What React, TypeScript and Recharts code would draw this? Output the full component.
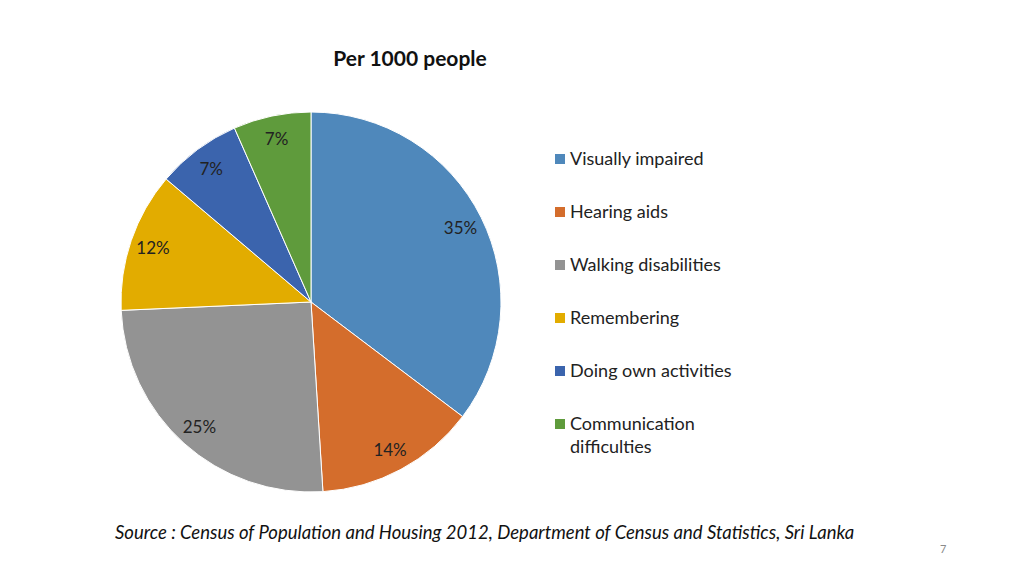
import { PieChart, Pie, Cell, Legend } from 'recharts'

const categories = [
  'Visually impaired',
  'Hearing aids',
  'Walking disabilities',
  'Remembering',
  'Doing own activities',
  'Communication difficulties',
]

const shares = [35.3, 13.7, 25.3, 11.9, 7.2, 6.6]

const sliceColors = ['#4F88BB', '#D46D2C', '#939393', '#E2AC00', '#3B64AD', '#5F9B3C']

const FONT = 'Lato, "Open Sans", "Noto Sans", sans-serif'

const pieData = categories.map((name, i) => ({ name, value: shares[i] }))

const RADIAN = Math.PI / 180

function renderLabel(props: any) {
  const { cx, cy, midAngle, percent } = props
  const r = 167
  const x = cx + r * Math.cos(-midAngle * RADIAN)
  const y = cy + r * Math.sin(-midAngle * RADIAN)
  return (
    <text
      x={x}
      y={y}
      textAnchor="middle"
      dominantBaseline="central"
      fill="#222"
      fontSize={17}
      fontFamily={FONT}
    >
      {`${Math.round((percent ?? 0) * 100)}%`}
    </text>
  )
}

function LegendList() {
  return (
    <div style={{ fontFamily: FONT, fontSize: 18, color: '#222' }}>
      {categories.map((name, i) => (
        <div
          key={name}
          style={{ display: 'flex', alignItems: 'flex-start', height: 53 }}
        >
          <span
            style={{
              display: 'inline-block',
              width: 10,
              height: 10,
              marginTop: 7,
              marginRight: 5,
              background: sliceColors[i],
              flex: 'none',
            }}
          />
          <span style={{ width: 165, lineHeight: '23px' }}>{name}</span>
        </div>
      ))}
    </div>
  )
}

export default function App() {
  return (
    <div
      style={{
        position: 'absolute',
        left: 0,
        top: 0,
        width: 1024,
        height: 576,
        background: '#fff',
        fontFamily: FONT,
      }}
    >
      <div
        style={{
          position: 'absolute',
          left: 290,
          top: 45,
          width: 240,
          textAlign: 'center',
          fontWeight: 'bold',
          fontSize: 21,
          color: '#111',
        }}
      >
        Per 1000 people
      </div>
      <PieChart width={1024} height={576} margin={{ top: 0, right: 0, bottom: 0, left: 0 }}>
        <Pie
          data={pieData}
          dataKey="value"
          nameKey="name"
          cx={311}
          cy={302}
          outerRadius={190}
          startAngle={90}
          endAngle={-270}
          stroke="#fff"
          strokeWidth={1}
          label={renderLabel}
          labelLine={false}
          isAnimationActive={false}
        >
          {pieData.map((entry, index) => (
            <Cell key={entry.name} fill={sliceColors[index]} />
          ))}
        </Pie>
        <Legend
          content={() => <LegendList />}
          wrapperStyle={{ position: 'absolute', left: 555, top: 147, width: 220 }}
        />
      </PieChart>
      <div
        style={{
          position: 'absolute',
          left: 115,
          top: 521,
          fontStyle: 'italic',
          fontSize: 18.5,
          color: '#111',
          whiteSpace: 'nowrap',
        }}
      >
        Source : Census of Population and Housing 2012, Department of Census and Statistics, Sri Lanka
      </div>
      <div
        style={{
          position: 'absolute',
          left: 940,
          top: 542,
          fontSize: 11,
          color: '#8a8a8a',
        }}
      >
        7
      </div>
    </div>
  )
}
